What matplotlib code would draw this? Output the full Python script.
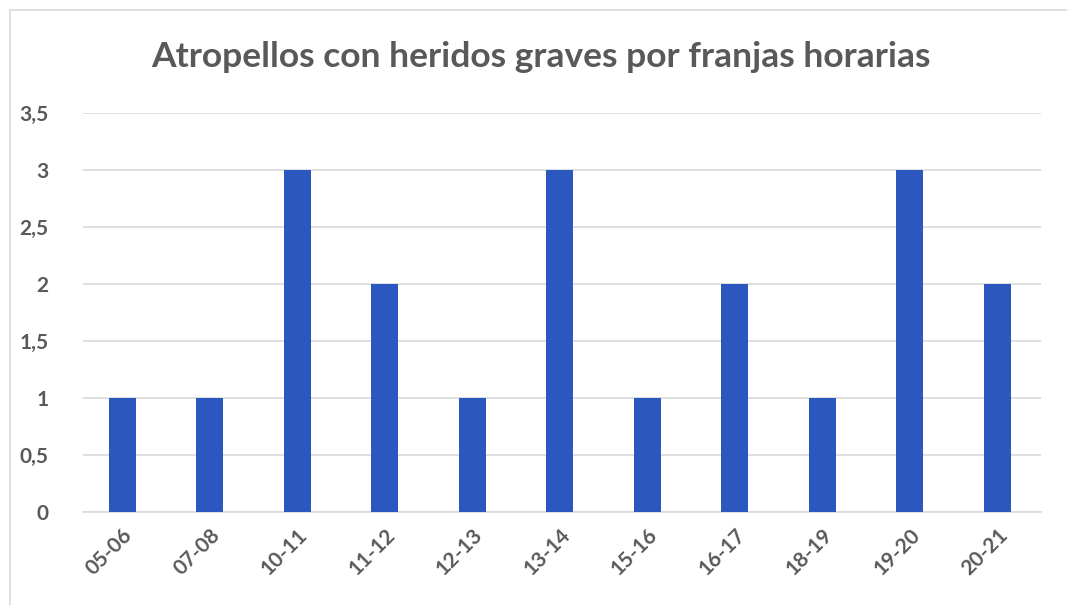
import matplotlib.pyplot as plt
from matplotlib.patches import Rectangle
from matplotlib.ticker import FuncFormatter

franjas = ['05-06', '07-08', '10-11', '11-12', '12-13', '13-14',
           '15-16', '16-17', '18-19', '19-20', '20-21']
heridos = [1, 1, 3, 2, 1, 3, 1, 2, 1, 3, 2]

texto = '#595959'
plt.rcParams['font.family'] = ['Lato', 'DejaVu Sans']

fig = plt.figure(figsize=(10.67, 6.05), dpi=100)
ax = fig.add_axes([83 / 1067, 1 - 512 / 605, (1041 - 83) / 1067, (512 - 113) / 605])

# marco gris del gráfico
fig.patches.append(Rectangle((10 / 1067, -0.1), 1.2, 1 - 10 / 605 + 0.1,
                             transform=fig.transFigure, fill=False,
                             edgecolor='#d9d9d9', linewidth=1.2))

x = range(len(franjas))
ax.bar(x, heridos, width=0.31, color='#2b57be', zorder=3)

ax.set_xlim(-0.45, len(franjas) - 0.5)
ax.set_ylim(0, 3.5)
ax.set_yticks([0, 0.5, 1, 1.5, 2, 2.5, 3, 3.5])
ax.yaxis.set_major_formatter(FuncFormatter(lambda v, p: ('%g' % v).replace('.', ',')))
ax.grid(axis='y', color='#d9d9d9', linewidth=1.2, zorder=0)
for s in ['top', 'right', 'left']:
    ax.spines[s].set_visible(False)
ax.spines['bottom'].set_color('#d9d9d9')
ax.spines['bottom'].set_linewidth(1.2)
ax.tick_params(axis='y', length=0, pad=25, labelsize=15, labelcolor=texto)
ax.tick_params(axis='x', length=0, pad=9, labelsize=15, labelcolor=texto)
ax.set_xticks(list(x))
ax.set_xticklabels(franjas, rotation=45, ha='right', rotation_mode='anchor',
                   fontweight='bold')
for lab in ax.get_yticklabels():
    lab.set_fontweight('bold')

fig.text(541 / 1067, 1 - 57 / 605, 'Atropellos con heridos graves por franjas horarias',
         ha='center', va='center', fontsize=25.5, fontweight='bold', color=texto)

fig.savefig('out.png', dpi=100)
